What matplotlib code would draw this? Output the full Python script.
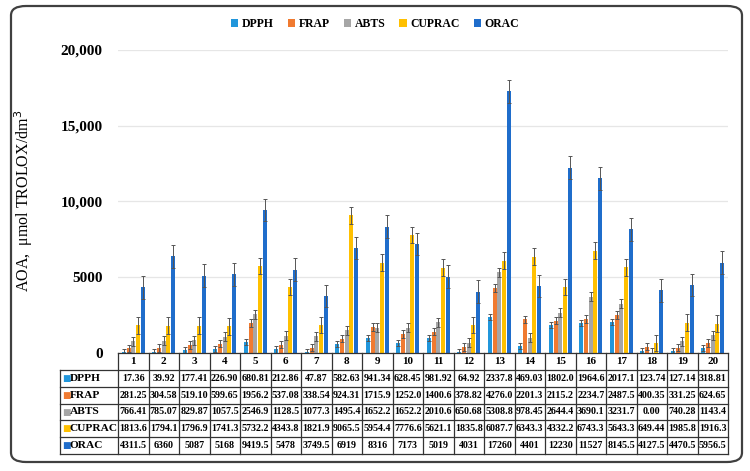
import numpy as np
import matplotlib
matplotlib.use("Agg")
import matplotlib.pyplot as plt
from matplotlib.patches import Patch, FancyBboxPatch
from matplotlib.lines import Line2D

# samples 1..20
samples = [str(i) for i in range(1, 21)]
methods = ["DPPH", "FRAP", "ABTS", "CUPRAC", "ORAC"]
colors = ["#2196DB", "#F07A30", "#A6A6A6", "#FFC000", "#1F6DCB"]

dpph = [17.36, 39.92, 177.41, 226.90, 680.81, 212.86, 47.87, 582.63, 941.34, 628.45,
        981.92, 64.92, 2337.8, 469.03, 1802.0, 1964.6, 2017.1, 123.74, 127.14, 318.81]
frap = [281.25, 304.58, 519.10, 599.65, 1956.2, 537.08, 338.54, 924.31, 1715.9, 1252.0,
        1400.6, 378.82, 4276.0, 2201.3, 2115.2, 2234.7, 2487.5, 400.35, 331.25, 624.65]
abts = [766.41, 785.07, 829.87, 1057.5, 2546.9, 1128.5, 1077.3, 1495.4, 1652.2, 1652.2,
        2010.6, 650.68, 5308.8, 978.45, 2644.4, 3690.1, 3231.7, 0.00, 740.28, 1143.4]
cuprac = [1813.6, 1794.1, 1796.9, 1741.3, 5732.2, 4343.8, 1821.9, 9065.5, 5954.4, 7776.6,
          5621.1, 1835.8, 6087.7, 6343.3, 4332.2, 6743.3, 5643.3, 649.44, 1985.8, 1916.3]
orac = [4311.5, 6360, 5087, 5168, 9419.5, 5478, 3749.5, 6919, 8316, 7173,
        5019, 4031, 17260, 4401, 12230, 11527, 8145.5, 4127.5, 4470.5, 5956.5]

# error bars (one value per series)
errors = [200, 250, 300, 550, 750]

series = [dpph, frap, abts, cuprac, orac]


def fmt(v, general=False):
    if general:
        return "%g" % v
    if v < 1000:
        return "%.2f" % v
    return "%.1f" % v


W, H = 750, 471
fig = plt.figure(figsize=(7.5, 4.71), dpi=100)

# rounded frame
frame = FancyBboxPatch((11 / W, 9 / H), 731 / W, 456 / H,
                       boxstyle="round,pad=0,rounding_size=0.02",
                       transform=fig.transFigure, fill=False,
                       edgecolor="#404040", linewidth=1.6)
fig.patches.append(frame)

x0, x1 = 118, 728
y0, ytop = 352.7, 50
ax = fig.add_axes([x0 / W, (H - y0) / H, (x1 - x0) / W, (y0 - ytop) / H])

serif = "Liberation Serif"
n = len(samples)
x = np.arange(n)
slot = 0.155
bw = 0.13
for i, (vals, c) in enumerate(zip(series, colors)):
    ax.bar(x + (i - 2) * slot, vals, width=bw, color=c, label=methods[i],
           yerr=errors[i], error_kw=dict(ecolor="#555555", elinewidth=0.7,
                                         capsize=1.6, capthick=0.7), zorder=3)

ax.set_xlim(-0.5, n - 0.5)
ax.set_ylim(0, 20000)
ax.set_yticks([0, 5000, 10000, 15000, 20000])
ax.set_yticklabels(["0", "5000", "10,000", "15,000", "20,000"],
                   fontfamily=serif, fontweight="bold", fontsize=11)
ax.tick_params(axis="y", length=0, pad=11)
ax.set_xticks([])
for s in ax.spines.values():
    s.set_visible(False)
ax.grid(axis="y", color="#e6e6e6", linewidth=0.9, zorder=0)
ax.set_ylabel("AOA,  \u03bcmol TROLOX/dm$^3$", fontfamily=serif, fontsize=11.5)
ax.yaxis.set_label_coords(-0.136, 0.5)

# legend on top
handles = [Patch(facecolor=c, edgecolor="none") for c in colors]
fig.legend(handles, methods, loc="center", bbox_to_anchor=(0.5, (H - 24) / H),
           ncol=5, frameon=False, handlelength=0.6, handleheight=0.6,
           handletextpad=0.3, columnspacing=1.2,
           prop=dict(family=serif, weight="bold", size=8.5))

# data table below the axis
tr = fig.transFigure
lc = "#333333"
lab_x = 60
row_h = [17.3] + [16.8] * 5
ys = [y0]
for h in row_h:
    ys.append(ys[-1] + h)
cw = (x1 - x0) / n


def fx(px):
    return px / W


def fy(py):
    return (H - py) / H


lw = 0.9
# horizontal lines
fig.add_artist(Line2D([fx(x0), fx(x1)], [fy(ys[0])] * 2, transform=tr, color=lc, lw=lw))
for yy in ys[1:]:
    fig.add_artist(Line2D([fx(lab_x), fx(x1)], [fy(yy)] * 2, transform=tr, color=lc, lw=lw))
# vertical lines
fig.add_artist(Line2D([fx(lab_x)] * 2, [fy(ys[1]), fy(ys[-1])], transform=tr, color=lc, lw=lw))
for j in range(n + 1):
    xx = x0 + j * cw
    fig.add_artist(Line2D([fx(xx)] * 2, [fy(ys[0]), fy(ys[-1])], transform=tr, color=lc, lw=lw))

for j, s in enumerate(samples):
    fig.text(fx(x0 + (j + 0.5) * cw), fy((ys[0] + ys[1]) / 2), s, ha="center", va="center",
             fontfamily=serif, fontweight="bold", fontsize=8, transform=tr)

for i, (m, vals) in enumerate(zip(methods, series)):
    yc = fy((ys[i + 1] + ys[i + 2]) / 2)
    fig.text(fx(lab_x + 2), yc, "\u25a0", color=colors[i], ha="left", va="center",
             fontsize=6.5, fontfamily="DejaVu Sans")
    fig.text(fx(lab_x + 10), yc, m, ha="left", va="center",
             fontfamily=serif, fontweight="bold", fontsize=8.2)
    for j, v in enumerate(vals):
        fig.text(fx(x0 + (j + 0.5) * cw), yc, fmt(v, general=(m == "ORAC")),
                 ha="center", va="center", fontfamily=serif, fontweight="bold",
                 fontsize=7.2)

fig.savefig("out.png", dpi=100)
